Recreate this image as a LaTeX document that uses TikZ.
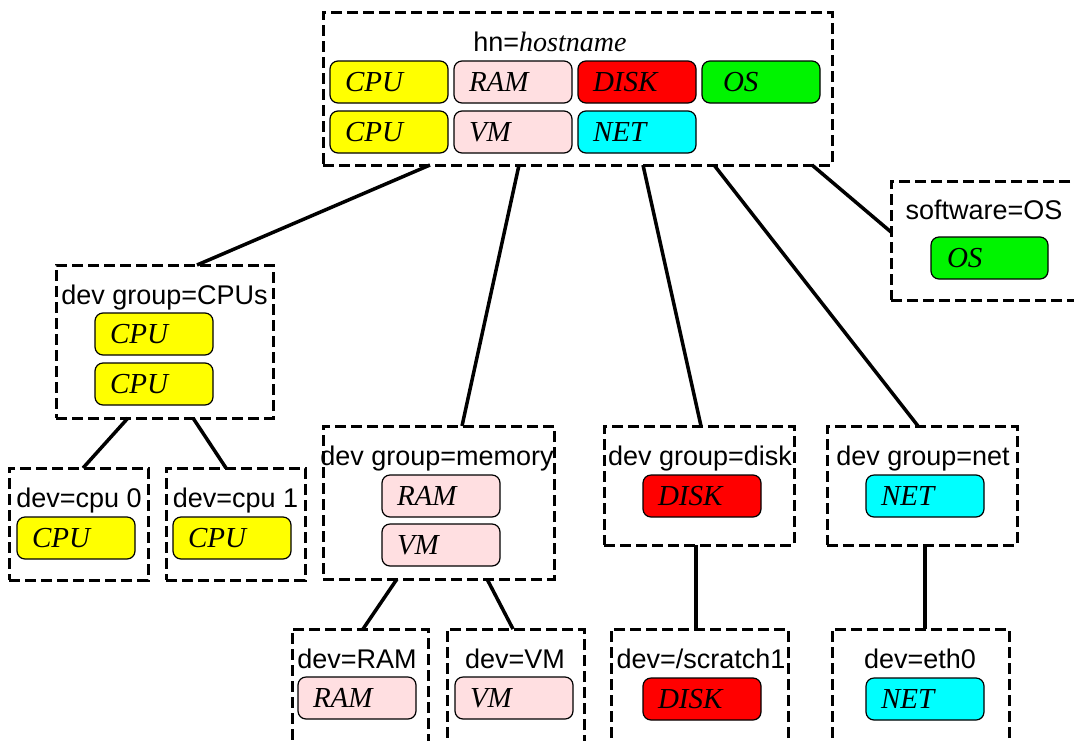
\documentclass[tikz,border=0pt]{standalone}
\usepackage{fontspec}
\usetikzlibrary{calc}
\newfontfamily\lsans{Liberation Sans}
\newfontfamily\lserif{Liberation Serif}
\newcommand\ttlfont{\lsans\fontsize{27}{30}\selectfont}
\newcommand\chipfont{\lserif\itshape\fontsize{29}{30}\selectfont}
\definecolor{cyel}{HTML}{FFFF00}
\definecolor{cpink}{HTML}{FFDFE1}
\definecolor{cred}{HTML}{FF0000}
\definecolor{cgreen}{HTML}{00F400}
\definecolor{ccyan}{HTML}{00FFFF}
\tikzset{
  grp/.style={draw, line width=3pt, dash pattern=on 11pt off 5pt, rectangle, inner sep=0pt, outer sep=0pt, anchor=north west},
  conn/.style={line width=3.5pt},
  chip/.style={draw, line width=1.2pt, rounded corners=8pt, rectangle, minimum height=42pt, text width=88pt, inner xsep=15pt, inner ysep=0pt, align=left, anchor=north west, font=\chipfont, outer sep=0pt},
  ttl/.style={font=\ttlfont, inner sep=0pt, anchor=base},
}
\begin{document}
\begin{tikzpicture}[x=1pt,y=-1pt]
\useasboundingbox (0,0) rectangle (1074,740);
% group boxes
\node[grp, minimum width=509pt, minimum height=153pt] (hn) at (323,12) {};
\node[grp, minimum width=217pt, minimum height=153pt] (cpus) at (56,265) {};
\node[grp, minimum width=139pt, minimum height=112pt] (cpu0) at (9,468) {};
\node[grp, minimum width=139pt, minimum height=112pt] (cpu1) at (166,468) {};
\node[grp, minimum width=190pt, minimum height=119pt] (sw) at (891,181) {};
\node[grp, minimum width=231pt, minimum height=153pt] (mem) at (323,426) {};
\node[grp, minimum width=190pt, minimum height=119pt] (disk) at (604,426) {};
\node[grp, minimum width=190pt, minimum height=119pt] (net) at (827,426) {};
\node[grp, minimum width=136pt, minimum height=140pt] (devram) at (292,629) {};
\node[grp, minimum width=137pt, minimum height=140pt] (devvm) at (447,629) {};
\node[grp, minimum width=177pt, minimum height=140pt] (scratch) at (611,629) {};
\node[grp, minimum width=177pt, minimum height=140pt] (eth) at (832,629) {};
% titles
\node[ttl] (hn-t) at (550,51) {hn={\lserif\itshape\fontsize{28}{30}\selectfont hostname}};
\node[ttl] (cpus-t) at (164.5,304) {dev group=CPUs};
\node[ttl] (cpu0-t) at (79,507) {dev=cpu 0};
\node[ttl] (cpu1-t) at (235.5,507) {dev=cpu 1};
\node[ttl] (sw-t) at (984,219) {software=OS};
\node[ttl] (mem-t) at (437,465) {dev group=memory};
\node[ttl] (disk-t) at (700,465) {dev group=disk};
\node[ttl] (net-t) at (923,465) {dev group=net};
\node[ttl] (devram-t) at (357,668) {dev=RAM};
\node[ttl] (devvm-t) at (515,668) {dev=VM};
\node[ttl] (scratch-t) at (701,668) {dev=/scratch1};
\node[ttl] (eth-t) at (920,668) {dev=eth0};
% chips in hn
\node[chip, fill=cyel] (hn-c1) at (330,61) {CPU};
\node[chip, fill=cpink] (hn-ram) at (454,61) {RAM};
\node[chip, fill=cred] (hn-disk) at (578,61) {DISK};
\node[chip, fill=cgreen, text width=76pt, inner xsep=21pt] (hn-os) at (702,61) {OS};
\node[chip, fill=cyel] (hn-c2) at (330,111) {CPU};
\node[chip, fill=cpink] (hn-vm) at (454,111) {VM};
\node[chip, fill=ccyan] (hn-net) at (578,111) {NET};
% chips in groups
\node[chip, fill=cyel] (cpus-c1) at (95,313) {CPU};
\node[chip, fill=cyel] (cpus-c2) at (95,363) {CPU};
\node[chip, fill=cyel] (cpu0-c) at (17,517) {CPU};
\node[chip, fill=cyel] (cpu1-c) at (173,517) {CPU};
\node[chip, fill=cgreen, text width=85pt, inner xsep=16pt] (sw-c) at (931,237) {OS};
\node[chip, fill=cpink] (mem-ram) at (382,475) {RAM};
\node[chip, fill=cpink] (mem-vm) at (382,524) {VM};
\node[chip, fill=cred] (disk-c) at (643,475) {DISK};
\node[chip, fill=ccyan] (net-c) at (866,475) {NET};
\node[chip, fill=cpink] (devram-c) at (298,677) {RAM};
\node[chip, fill=cpink] (devvm-c) at (455,677) {VM};
\node[chip, fill=cred] (scratch-c) at (643,678) {DISK};
\node[chip, fill=ccyan] (eth-c) at (866,678) {NET};
% connectors
\draw[conn] ($(hn.south west)+(107,0)$) -- ($(cpus.north west)+(141,0)$);
\draw[conn] ($(hn.south west)+(196,0)$) -- ($(mem.north west)+(139,0)$);
\draw[conn] ($(hn.south west)+(320,0)$) -- ($(disk.north west)+(97,0)$);
\draw[conn] ($(hn.south west)+(391,0)$) -- ($(net.north west)+(91,0)$);
\draw[conn] ($(hn.south west)+(489,0)$) -- ($(sw.north west)+(0,51)$);
\draw[conn] ($(cpus.south west)+(72,0)$) -- ($(cpu0.north west)+(74,0)$);
\draw[conn] ($(cpus.south west)+(137,0)$) -- ($(cpu1.north west)+(60,0)$);
\draw[conn] ($(mem.south west)+(74,0)$) -- ($(devram.north west)+(71,0)$);
\draw[conn] ($(mem.south west)+(164,0)$) -- ($(devvm.north west)+(66,0)$);
\draw[conn] ($(disk.south west)+(92,0)$) -- ($(scratch.north west)+(85,0)$);
\draw[conn] ($(net.south west)+(98,0)$) -- ($(eth.north west)+(93,0)$);
\end{tikzpicture}
\end{document}
